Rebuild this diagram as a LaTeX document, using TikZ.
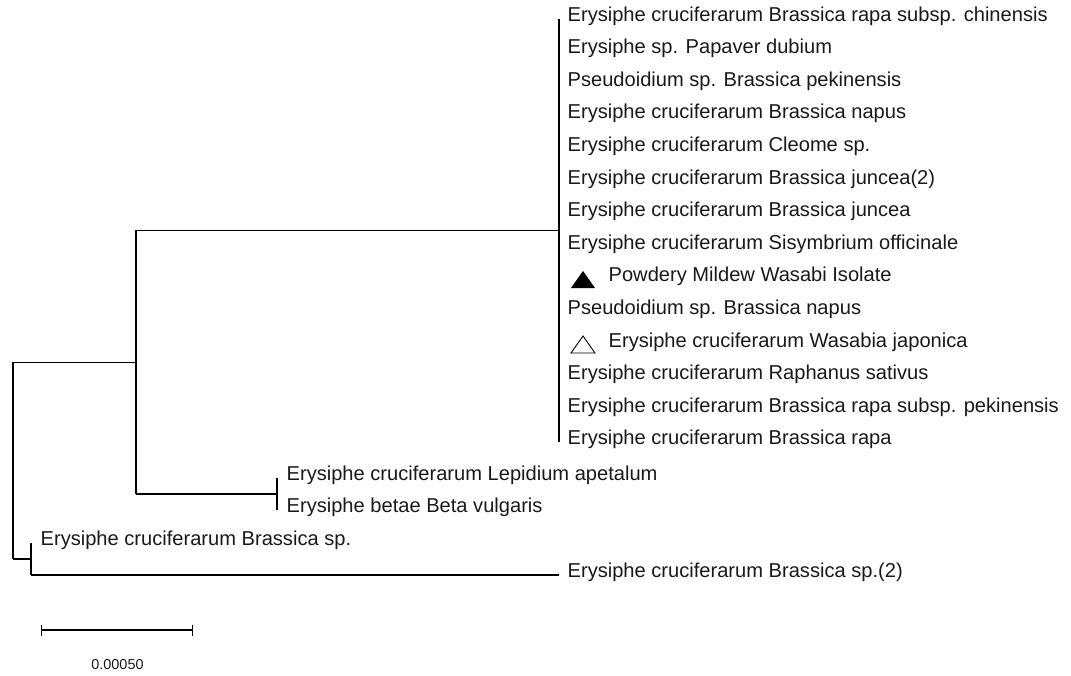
\documentclass[tikz,border=0pt]{standalone}
\usepackage{fontspec}
\setmainfont{Liberation Sans}
\usetikzlibrary{arrows.meta, positioning, calc}

\begin{document}
\begin{tikzpicture}[x=1pt, y=-1pt, line width=1.3pt,
  leaf/.style={anchor=west, inner sep=0pt, text height=0.72em, text depth=0.21em,
    font=\fontsize{20.1}{24}\selectfont, text=black!90}]
\useasboundingbox (0,0) rectangle (1071,675);

% Inner nodes of the tree
\coordinate (nRoot) at (13,460);
\coordinate (nA) at (136,362.2);
\coordinate (nB) at (559,230.4);
\coordinate (nC) at (277,494);
\coordinate (nD) at (31,559);

% Leaves of the large clade
\foreach \i/\txt in {1/{Erysiphe cruciferarum Brassica rapa subsp. chinensis},
    2/{Erysiphe sp. Papaver dubium},
    3/{Pseudoidium sp. Brassica pekinensis},
    4/{Erysiphe cruciferarum Brassica napus},
    5/{Erysiphe cruciferarum Cleome sp.},
    6/{Erysiphe cruciferarum Brassica juncea(2)},
    7/{Erysiphe cruciferarum Brassica juncea},
    8/{Erysiphe cruciferarum Sisymbrium officinale},
    10/{Pseudoidium sp. Brassica napus},
    12/{Erysiphe cruciferarum Raphanus sativus},
    13/{Erysiphe cruciferarum Brassica rapa subsp. pekinensis},
    14/{Erysiphe cruciferarum Brassica rapa}}
  \node[leaf] (l\i) at (567,{18.5+32.6*(\i-1)}) {\txt};
\node[leaf] (l9) at (608,{18.5+32.6*8}) {Powdery Mildew Wasabi Isolate};
\node[leaf] (l11) at (608,{18.5+32.6*10}) {Erysiphe cruciferarum Wasabia japonica};

% Markers
\fill[black] (571,288) -- (595,288) -- (583,271) -- cycle;
\draw[line width=0.9pt] (571,353) -- (595,353) -- (583,336) -- cycle;

% Other leaves
\node[leaf] (lep) at (286,478) {Erysiphe cruciferarum Lepidium apetalum};
\node[leaf] (bet) at (286,510) {Erysiphe betae Beta vulgaris};
\node[leaf] (bsp) at (40,543) {Erysiphe cruciferarum Brassica sp.};
\node[leaf] (bsp2) at (567,575) {Erysiphe cruciferarum Brassica sp.(2)};

% Branches
\draw (nA -| nRoot) -- (nD -| nRoot);
\draw (nA -| nRoot) -- (nA);
\draw (nD -| nRoot) -- (nD);
\draw (nB -| nA) -- (nC -| nA);
\draw (nB -| nA) -- (nB);
\draw (nC -| nA) -- (nC);
\draw (l1 -| nB) -- (l14 -| nB);
\draw (lep -| nC) -- (bet -| nC);
\draw (bsp -| nD) -- (bsp2 -| nD);
\draw (bsp2 -| nD) -- (bsp2 -| nB);

% Scale bar
\coordinate (sbL) at (41,630);
\coordinate (sbR) at (193,630);
\draw[{Bar[width=11pt]}-{Bar[width=11pt]}, line width=1.1pt] (sbL) -- (sbR);
\node[font=\fontsize{14.4}{16}\selectfont, text=black!90] (sbT) at (117.5,665) {0.00050};
\end{tikzpicture}
\end{document}
